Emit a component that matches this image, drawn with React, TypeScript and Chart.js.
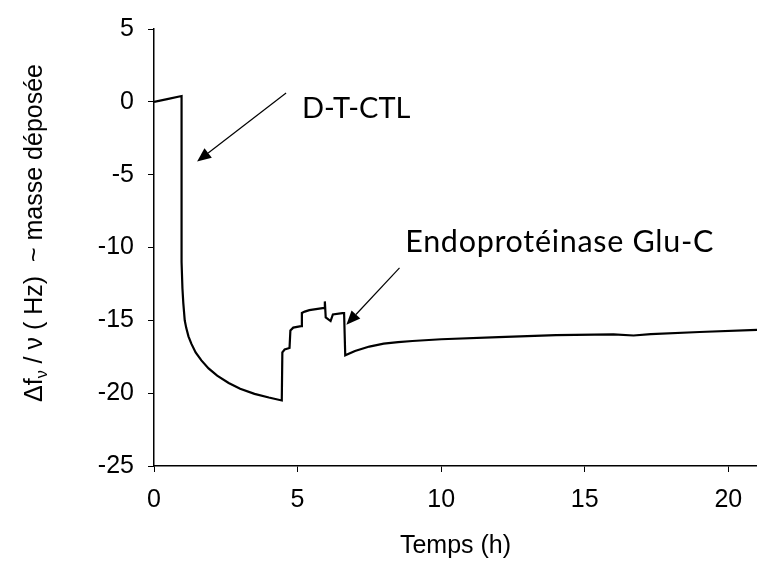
import React, { useEffect, useRef } from "react";
import { Chart, registerables } from "chart.js";

Chart.register(...registerables);

const timeHours = [0, 0.5, 0.96, 0.96, 0.99, 1.02, 1.07, 1.12, 1.2, 1.3, 1.45, 1.65, 1.9, 2.2, 2.6, 3.0, 3.5, 4.0, 4.45, 4.47, 4.55, 4.72, 4.75, 4.85, 5.12, 5.15, 5.25, 5.41, 5.93, 5.95, 5.98, 6.15, 6.23, 6.56, 6.62, 6.66, 7.0, 7.5, 8.0, 8.5, 9, 10, 12, 14, 16, 16.7, 17.3, 19, 21];
const deltaF = [0, 0.2, 0.4, -11, -12.8, -13.8, -15.0, -15.5, -16.1, -16.6, -17.2, -17.75, -18.3, -18.8, -19.3, -19.7, -20.05, -20.3, -20.5, -17.2, -17.0, -16.9, -15.7, -15.5, -15.4, -14.5, -14.4, -14.3, -14.15, -13.7, -14.8, -15.05, -14.6, -14.5, -14.5, -17.4, -17.1, -16.8, -16.6, -16.5, -16.42, -16.3, -16.15, -16.02, -15.97, -16.04, -15.95, -15.8, -15.65];

const xTicks = [0, 5, 10, 15, 20];
const yTicks = [-25, -20, -15, -10, -5, 0, 5];
const xTitle = "Temps (h)";
const annotationLabels = ["D-T-CTL", "Endoprotéinase Glu-C"];
// annotation arrow targets in data units [x, y]
const arrowTargets = [[1.5, -4.1], [6.7, -15.3]];
const arrowStarts = [[4.6, 0.6], [8.55, -11.4]];
const labelAnchors = [[5.15, -1.1], [8.75, -10.3]];

const FONT = "'Liberation Sans', Arial, sans-serif";
const ANNOT_FONT = "Lato, 'Open Sans', sans-serif";

const overlayPlugin = {
  id: "overlay",
  afterDraw(chart: any) {
    const ctx = chart.ctx;
    const xs = chart.scales.x;
    const ys = chart.scales.y;
    ctx.save();
    // y-axis title with subscript
    ctx.fillStyle = "#000";
    const centerY = 233;
    const baseX = 42;
    const big = `25px ${FONT}`;
    const small = `16px ${FONT}`;
    const segs: [string, string, number][] = [
      ["Δf", big, 0],
      ["ν", small, 5],
      [" / ν ( Hz)  ~ masse déposée", big, 0],
    ];
    let total = 0;
    for (const s of segs) { ctx.font = s[1]; total += ctx.measureText(s[0]).width; }
    ctx.translate(0, centerY);
    ctx.rotate(-Math.PI / 2);
    ctx.textBaseline = "alphabetic";
    ctx.textAlign = "left";
    let u = -total / 2;
    for (const s of segs) {
      ctx.font = s[1];
      ctx.fillText(s[0], u, baseX + s[2]);
      u += ctx.measureText(s[0]).width;
    }
    ctx.restore();

    // annotations
    ctx.save();
    ctx.fillStyle = "#000";
    ctx.strokeStyle = "#000";
    ctx.textBaseline = "alphabetic";
    ctx.textAlign = "left";
    const fontSizes = [29, 30.5];
    const spacing = ["0px", "0.7px"];
    annotationLabels.forEach((lab, i) => {
      ctx.font = `${fontSizes[i]}px ${ANNOT_FONT}`;
      (ctx as any).letterSpacing = spacing[i];
      ctx.fillText(lab, xs.getPixelForValue(labelAnchors[i][0]), ys.getPixelForValue(labelAnchors[i][1]));
      (ctx as any).letterSpacing = "0px";
      const x0 = xs.getPixelForValue(arrowStarts[i][0]);
      const y0 = ys.getPixelForValue(arrowStarts[i][1]);
      const x1 = xs.getPixelForValue(arrowTargets[i][0]);
      const y1 = ys.getPixelForValue(arrowTargets[i][1]);
      const ang = Math.atan2(y1 - y0, x1 - x0);
      const hl = 14, hw = 6;
      const bx = x1 - hl * Math.cos(ang);
      const by = y1 - hl * Math.sin(ang);
      ctx.lineWidth = 1.2;
      ctx.beginPath();
      ctx.moveTo(x0, y0);
      ctx.lineTo(bx, by);
      ctx.stroke();
      ctx.beginPath();
      ctx.moveTo(x1, y1);
      ctx.lineTo(bx + hw * Math.sin(ang), by - hw * Math.cos(ang));
      ctx.lineTo(bx - hw * Math.sin(ang), by + hw * Math.cos(ang));
      ctx.closePath();
      ctx.fill();
    });
    ctx.restore();
  },
};

export default function App() {
  const ref = useRef<HTMLCanvasElement | null>(null);
  useEffect(() => {
    if (!ref.current) return;
    const points = timeHours.map((t, i) => ({ x: t, y: deltaF[i] }));
    const chart = new Chart(ref.current, {
      type: "scatter",
      data: {
        datasets: [
          {
            data: points,
            showLine: true,
            borderColor: "#000",
            borderWidth: 2.2,
            pointRadius: 0,
            tension: 0,
            fill: false,
          },
        ],
      },
      options: {
        animation: false,
        responsive: true,
        maintainAspectRatio: false,
        layout: { padding: { top: 26, right: 0, left: 0, bottom: 0 } },
        plugins: { legend: { display: false }, tooltip: { enabled: false } },
        scales: {
          x: {
            type: "linear",
            min: 0,
            max: 21,
            afterBuildTicks: (s: any) => { s.ticks = xTicks.map((v) => ({ value: v })); },
            afterFit: (s: any) => { s.height = 97; },
            grid: { drawOnChartArea: false, drawTicks: true, tickLength: 6, color: "#000", lineWidth: 1 },
            border: { display: true, color: "#000", width: 1.5 },
            ticks: { font: { family: FONT, size: 25 }, color: "#000", padding: 13, maxRotation: 0, autoSkip: false },
            title: { display: true, text: xTitle, font: { family: FONT, size: 25 }, color: "#000", padding: { top: 0, bottom: 2 } },
          },
          y: {
            type: "linear",
            min: -25,
            max: 5,
            afterBuildTicks: (s: any) => { s.ticks = yTicks.map((v) => ({ value: v })); },
            afterFit: (s: any) => { s.width = 154; },
            grid: { drawOnChartArea: false, drawTicks: true, tickLength: 6, color: "#000", lineWidth: 1 },
            border: { display: true, color: "#000", width: 1.5 },
            ticks: { font: { family: FONT, size: 25 }, color: "#000", padding: 14, autoSkip: false },
          },
        },
      },
      plugins: [overlayPlugin],
    } as any);
    return () => chart.destroy();
  }, []);
  return (
    <div style={{ position: "absolute", left: 0, top: 0, width: 757, height: 563, background: "#fff" }}>
      <canvas ref={ref} />
    </div>
  );
}
